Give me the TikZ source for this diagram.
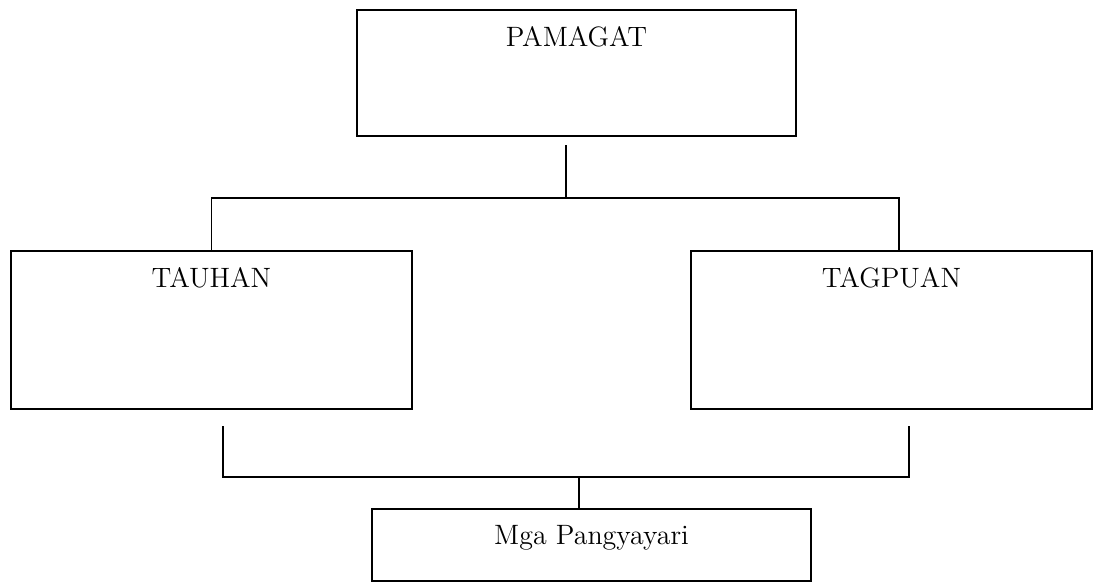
\documentclass[tikz,border=0pt]{standalone}
\usepackage{tikz}

\begin{document}
\begin{tikzpicture}[x=0.5pt,y=-0.5pt,
	box/.style={draw,line width=1.1pt,inner sep=0pt,text height=18pt,font=\fontsize{14}{16}\selectfont},
	link/.style={line width=0.65pt}]
				\useasboundingbox (0,0) rectangle (1096,585);
				\begin{scope}[every node/.style={box}]
					\node (pamagat) [anchor=north,minimum width=219.5pt,text depth=45pt] at (576.5,9) {PAMAGAT};
					\node (tauhan) [anchor=north,minimum width=200.5pt,text depth=61pt] at (211.5,250) {TAUHAN};
					\node (tagpuan) [anchor=north,minimum width=200.5pt,text depth=61pt] at (891.5,250) {TAGPUAN};
					\node (mga) [anchor=north,minimum width=219.5pt,text height=17.5pt,text depth=18.5pt] at (591.5,508) {Mga Pangyayari};
				\end{scope}
				
				\coordinate (top) at (566,145);
				\coordinate (hub) at (566,198);
				\coordinate (lowl) at (223,426);
				\coordinate (lowr) at (909,426);
				\coordinate (basel) at (223,477);
				\coordinate (baser) at (909,477);
				
				\begin{scope}[every path/.style={link}]
					\draw (top) -- (hub);%pamagat%
					\draw (tauhan.north) |- (hub) -| ([xshift=3.75pt]tagpuan.north);
					\draw (lowl) -- (basel) -- (baser) -- (lowr);
					\draw ([xshift=-6.25pt]mga.north) -- ([xshift=-6.25pt]mga.north |- basel);%mga%
				\end{scope}
			\end{tikzpicture}
\end{document}
